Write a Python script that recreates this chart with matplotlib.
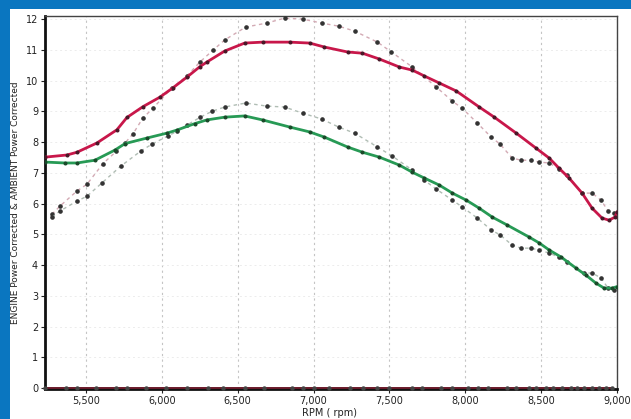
import matplotlib
matplotlib.use("Agg")
import matplotlib.pyplot as plt
from matplotlib.patches import Rectangle
from matplotlib.ticker import FuncFormatter

# engine power corrected (smoothed, red)
eng_rpm = [5230, 5375, 5441, 5572, 5704, 5770, 5875, 5987, 6072, 6165, 6250, 6296,
           6414, 6546, 6664, 6842, 6974, 7072, 7224, 7322, 7434, 7566, 7651, 7730,
           7829, 7941, 8092, 8191, 8336, 8467, 8553, 8618, 8684, 8770, 8836, 8901,
           8947, 8987, 9000]
eng_pwr = [7.51, 7.58, 7.67, 7.97, 8.40, 8.80, 9.15, 9.46, 9.76, 10.11, 10.45, 10.60,
           10.96, 11.22, 11.25, 11.25, 11.22, 11.09, 10.93, 10.89, 10.70, 10.44, 10.34, 10.15,
           9.92, 9.66, 9.14, 8.81, 8.29, 7.80, 7.48, 7.15, 6.83, 6.34, 5.85, 5.53,
           5.46, 5.56, 5.72]

# ambient power corrected (smoothed, green)
amb_rpm = [5230, 5362, 5441, 5559, 5691, 5757, 5901, 6033, 6099, 6217, 6296, 6414,
           6546, 6664, 6842, 6974, 7072, 7224, 7322, 7434, 7566, 7651, 7730, 7829,
           7915, 8007, 8092, 8178, 8277, 8421, 8487, 8553, 8632, 8730, 8796, 8862,
           8915, 8967, 9000]
amb_pwr = [7.35, 7.32, 7.32, 7.41, 7.74, 7.95, 8.13, 8.29, 8.39, 8.60, 8.72, 8.81,
           8.85, 8.72, 8.49, 8.33, 8.16, 7.84, 7.67, 7.51, 7.25, 7.02, 6.83, 6.60,
           6.34, 6.11, 5.85, 5.56, 5.30, 4.91, 4.72, 4.49, 4.26, 3.90, 3.67, 3.41,
           3.25, 3.25, 3.30]

# raw engine samples (dotted, upper)
eng_raw_rpm = [5276, 5329, 5441, 5507, 5612, 5700, 5757, 5809, 5875, 5941, 6066, 6165,
               6250, 6340, 6414, 6553, 6691, 6809, 6928, 7053, 7165, 7270, 7421, 7513,
               7651, 7809, 7915, 7980, 8079, 8171, 8230, 8309, 8368, 8434, 8487, 8553,
               8618, 8671, 8770, 8836, 8895, 8941, 8980]
eng_raw = [5.65, 5.92, 6.41, 6.63, 7.30, 7.70, 7.97, 8.26, 8.78, 9.10, 9.76, 10.15,
           10.60, 11.00, 11.32, 11.74, 11.87, 12.03, 12.00, 11.87, 11.77, 11.61, 11.25, 10.93,
           10.44, 9.79, 9.33, 9.10, 8.62, 8.16, 7.93, 7.48, 7.41, 7.41, 7.35, 7.32,
           7.12, 6.93, 6.34, 6.34, 6.11, 5.76, 5.69]

# raw ambient samples (dotted, lower)
amb_raw_rpm = [5276, 5329, 5441, 5507, 5605, 5730, 5862, 5934, 6040, 6100, 6165, 6250,
               6330, 6414, 6553, 6691, 6809, 6928, 7053, 7165, 7270, 7421, 7520, 7651,
               7730, 7809, 7915, 7980, 8079, 8171, 8230, 8309, 8368, 8434, 8487, 8553,
               8618, 8671, 8783, 8836, 8895, 8941, 8980]
amb_raw = [5.56, 5.76, 6.08, 6.24, 6.67, 7.22, 7.71, 7.93, 8.20, 8.35, 8.55, 8.80,
           9.00, 9.14, 9.27, 9.17, 9.14, 8.94, 8.75, 8.49, 8.29, 7.84, 7.54, 7.09,
           6.76, 6.47, 6.11, 5.89, 5.53, 5.14, 4.98, 4.65, 4.55, 4.55, 4.49, 4.39,
           4.26, 4.10, 3.74, 3.74, 3.58, 3.25, 3.19]

# sample points along the zero line
zero_rpm = [5230, 5368, 5441, 5566, 5697, 5770, 5895, 6026, 6165, 6303, 6401, 6546,
            6671, 6855, 6928, 7000, 7105, 7237, 7329, 7421, 7500, 7652, 7717, 7842,
            7915, 8020, 8086, 8152, 8277, 8336, 8422, 8468, 8534, 8580, 8639, 8698,
            8738, 8784, 8836, 8882, 8928, 8968]
zero_val = [0] * len(zero_rpm)

W, H = 631, 419
fig = plt.figure(figsize=(W / 100, H / 100), dpi=100)
fig.patch.set_facecolor("#0a76c0")
fig.patches.append(Rectangle((10 / W, 0), 1, 1 - 9 / H, transform=fig.transFigure,
                             facecolor="white", edgecolor="none", zorder=-5))

ax = fig.add_axes([45 / W, 1 - 389 / H, 572 / W, 373 / H])
ax.set_facecolor("white")

ax.plot(eng_raw_rpm, eng_raw, color="#d3aab4", ls=(0, (2.5, 2.5)), lw=1,
        marker="o", ms=2.3, mfc="#333333", mec="#333333", zorder=3)
ax.plot(amb_raw_rpm, amb_raw, color="#b0bdb4", ls=(0, (2.5, 2.5)), lw=1,
        marker="o", ms=2.3, mfc="#333333", mec="#333333", zorder=3)
ax.plot(eng_rpm, eng_pwr, color="#c8174a", lw=2, marker="o", ms=1.9,
        mfc="#4a1828", mec="#4a1828", zorder=4)
ax.plot(amb_rpm, amb_pwr, color="#279a55", lw=2, marker="o", ms=1.9,
        mfc="#1a4a2a", mec="#1a4a2a", zorder=4)
ax.plot(zero_rpm, zero_val, color="#6a1a2a", lw=1.4, marker="o", ms=2.2,
        mfc="#444444", mec="#444444", zorder=5, clip_on=False)

ax.set_xlim(5230, 9000)
ax.set_ylim(-0.03, 12.1)
ax.set_xticks(range(5500, 9001, 500))
ax.set_yticks(range(0, 13))
ax.xaxis.set_major_formatter(FuncFormatter(lambda v, p: f"{int(v):,}"))
ax.tick_params(labelsize=7, length=3, width=0.8, colors="#222222", pad=2)

ax.grid(axis="x", color="#c4c4c4", ls=(0, (2, 3)), lw=0.8)
ax.grid(axis="y", color="#ececec", ls=(0, (2, 3)), lw=0.7)
ax.set_axisbelow(True)

for side in ["left", "bottom"]:
    ax.spines[side].set_linewidth(2)
    ax.spines[side].set_color("#111111")
for side in ["top", "right"]:
    ax.spines[side].set_linewidth(1)
    ax.spines[side].set_color("#444444")

ax.set_ylabel("ENGINE Power Corrected & AMBIENT Power Corrected", fontsize=6.5,
              color="#222222")
ax.yaxis.set_label_coords(-0.044, 0.5)
fig.text(330 / W, 1 - 408 / H, "RPM ( rpm)", fontsize=7, ha="center", va="top",
         color="#222222")

fig.savefig("out.png", dpi=100, facecolor=fig.get_facecolor())
